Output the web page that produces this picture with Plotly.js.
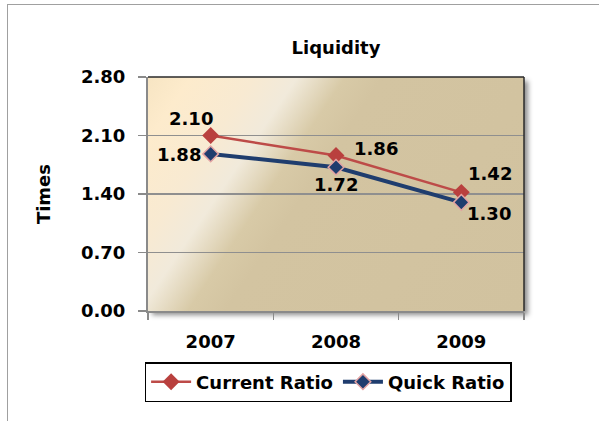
<!DOCTYPE html>
<html>
<head>
<meta charset="utf-8">
<script src="https://cdn.plot.ly/plotly-3.0.1.min.js"></script>
<style>
  html, body { margin: 0; padding: 0; background: #ffffff; }
  #wrap { position: relative; width: 599px; height: 421px; overflow: hidden; background: #ffffff; }
  #frame { position: absolute; left: 7px; top: 4px; width: 620px; height: 440px;
           border-left: 1.5px solid #a0a0a0; border-top: 1.5px solid #a0a0a0; }
  #plotbg { position: absolute; left: 148px; top: 77px; width: 376px; height: 234px;
            background: linear-gradient(124deg, #f7e5c3 0%, #fdebcc 8%, #f8ead2 20%, #f1eadb 28%, #d8caa7 37%, #d3c4a1 44%, #d1c29f 100%);
            box-shadow: 4px 4px 5px rgba(0,0,0,0.45); }
  #chart { position: absolute; left: 0; top: 0; width: 599px; height: 421px; }
</style>
</head>
<body>
<div id="wrap">
  <div id="frame"></div>
  <div id="plotbg"></div>
  <div id="chart"></div>
</div>
<script>
// ---- data ----
var years = ['2007', '2008', '2009'];
var currentRatio = [2.10, 1.86, 1.42];
var quickRatio = [1.88, 1.72, 1.30];
var yTicks = [0.00, 0.70, 1.40, 2.10, 2.80];
var seriesNames = ['Current Ratio', 'Quick Ratio'];

// ---- label placement (pixels, relative to the point) ----
var curShift = [[-20, 17], [40, 7], [29, 19]];
var quickShift = [[-32, -1], [0, -17], [28, -11]];

var FONT = 'DejaVu Sans, Verdana, sans-serif';
var FS = 18;

var traces = [
  {
    x: years, y: currentRatio, name: seriesNames[0], type: 'scatter', mode: 'lines+markers',
    line: { color: '#bd4b48', width: 2.5 },
    marker: { symbol: 'diamond', size: 13, color: '#b9403e', line: { color: '#b9403e', width: 0 } },
    cliponaxis: false
  },
  {
    x: years, y: quickRatio, name: seriesNames[1], type: 'scatter', mode: 'lines+markers',
    line: { color: '#1f3d6e', width: 4 },
    marker: { symbol: 'diamond', size: 12, color: '#1f3d6e', line: { color: '#e3a3a3', width: 1.5 } },
    cliponaxis: false
  }
];

var annotations = [];
function addLabels(vals, shifts) {
  for (var i = 0; i < vals.length; i++) {
    annotations.push({
      x: i, y: vals[i], xref: 'x', yref: 'y',
      text: '<b>' + vals[i].toFixed(2) + '</b>', showarrow: false,
      xshift: shifts[i][0], yshift: shifts[i][1],
      font: { family: FONT, size: FS, color: '#000000' }
    });
  }
}
addLabels(currentRatio, curShift);
addLabels(quickRatio, quickShift);

var layout = {
  width: 599, height: 421,
  margin: { l: 148, r: 75, t: 77, b: 110 },
  paper_bgcolor: 'rgba(0,0,0,0)',
  plot_bgcolor: 'rgba(0,0,0,0)',
  font: { family: FONT, size: FS, color: '#000000', weight: 'bold' },
  title: {
    text: 'Liquidity', x: 0.5, xref: 'paper', xanchor: 'center',
    y: 1 - 48 / 421, yref: 'container', yanchor: 'middle',
    font: { family: FONT, size: FS, color: '#000000', weight: 'bold' }
  },
  xaxis: {
    type: 'category', range: [-0.5, 2.5],
    showgrid: false, zeroline: false,
    showline: true, linecolor: '#8a8a8a', linewidth: 2,
    ticks: 'outside', tickson: 'boundaries', ticklen: 7, tickwidth: 1.5, tickcolor: '#8a8a8a',
    ticklabelstandoff: 13,
    tickfont: { family: FONT, size: FS, color: '#000000', weight: 'bold' }
  },
  yaxis: {
    range: [0, 2.8], tickvals: yTicks, tickformat: '.2f',
    showgrid: true, gridcolor: '#8f8f8f', gridwidth: 1.3,
    zeroline: false,
    showline: true, linecolor: '#8a8a8a', linewidth: 2,
    ticks: 'outside', ticklen: 8, tickwidth: 1.5, tickcolor: '#8a8a8a',
    ticklabelstandoff: 9,
    tickfont: { family: FONT, size: FS, color: '#000000', weight: 'bold' },
    title: { text: 'Times', standoff: 26, font: { family: FONT, size: FS, color: '#000000', weight: 'bold' } }
  },
  shapes: [
    { type: 'line', xref: 'paper', yref: 'paper', x0: 0, x1: 1, y0: 1, y1: 1,
      line: { color: '#2a2a2a', width: 1.5 }, layer: 'above' },
    { type: 'line', xref: 'paper', yref: 'paper', x0: 1, x1: 1, y0: 0, y1: 1,
      line: { color: '#2a2a2a', width: 1.5 }, layer: 'above' }
  ],
  annotations: annotations,
  showlegend: true,
  legend: {
    orientation: 'h', x: 0.479, xanchor: 'center', y: -0.218, yanchor: 'top',
    bgcolor: '#ffffff', bordercolor: '#000000', borderwidth: 1.5,
    font: { family: FONT, size: FS, color: '#000000', weight: 'bold' },
    itemwidth: 40, tracegroupgap: 0
  }
};

Plotly.newPlot('chart', traces, layout, { displayModeBar: false, staticPlot: true });
</script>
</body>
</html>
